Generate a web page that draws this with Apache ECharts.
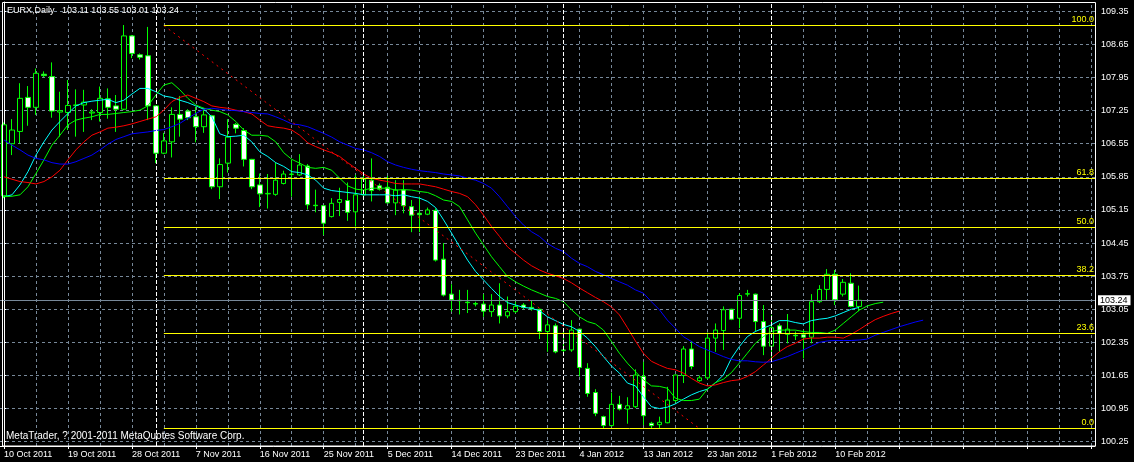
<!DOCTYPE html>
<html><head><meta charset="utf-8">
<script src="https://cdn.jsdelivr.net/npm/echarts@6/dist/echarts.min.js"></script>
<style>html,body{margin:0;padding:0;background:#000;}#c{width:1134px;height:462px;}</style>
</head><body><div id="c"></div>
<script>
// ---------- DATA ----------
const symbolName = 'EURX,Daily';
const categories = [
 '10 Oct 2011','11 Oct 2011','12 Oct 2011','13 Oct 2011','14 Oct 2011','16 Oct 2011','17 Oct 2011','18 Oct 2011',
 '19 Oct 2011','20 Oct 2011','21 Oct 2011','23 Oct 2011','24 Oct 2011','25 Oct 2011','26 Oct 2011','27 Oct 2011',
 '28 Oct 2011','30 Oct 2011','31 Oct 2011','1 Nov 2011','2 Nov 2011','3 Nov 2011','4 Nov 2011','6 Nov 2011',
 '7 Nov 2011','8 Nov 2011','9 Nov 2011','10 Nov 2011','11 Nov 2011','13 Nov 2011','14 Nov 2011','15 Nov 2011',
 '16 Nov 2011','17 Nov 2011','18 Nov 2011','20 Nov 2011','21 Nov 2011','22 Nov 2011','23 Nov 2011','24 Nov 2011',
 '25 Nov 2011','27 Nov 2011','28 Nov 2011','29 Nov 2011','30 Nov 2011','1 Dec 2011','2 Dec 2011','4 Dec 2011',
 '5 Dec 2011','6 Dec 2011','7 Dec 2011','8 Dec 2011','9 Dec 2011','11 Dec 2011','12 Dec 2011','13 Dec 2011',
 '14 Dec 2011','15 Dec 2011','16 Dec 2011','18 Dec 2011','19 Dec 2011','20 Dec 2011','21 Dec 2011','22 Dec 2011',
 '23 Dec 2011','26 Dec 2011','27 Dec 2011','28 Dec 2011','29 Dec 2011','30 Dec 2011','2 Jan 2012','3 Jan 2012',
 '4 Jan 2012','5 Jan 2012','6 Jan 2012','8 Jan 2012','9 Jan 2012','10 Jan 2012','11 Jan 2012','12 Jan 2012',
 '13 Jan 2012','15 Jan 2012','16 Jan 2012','17 Jan 2012','18 Jan 2012','19 Jan 2012','20 Jan 2012','22 Jan 2012',
 '23 Jan 2012','24 Jan 2012','25 Jan 2012','26 Jan 2012','27 Jan 2012','29 Jan 2012','30 Jan 2012','31 Jan 2012',
 '1 Feb 2012','2 Feb 2012','3 Feb 2012','5 Feb 2012','6 Feb 2012','7 Feb 2012','8 Feb 2012','9 Feb 2012',
 '10 Feb 2012','12 Feb 2012','13 Feb 2012','14 Feb 2012'
];
const emptyBarsRight = 29;

const opens = [105.45,106.55,106.81,107.53,107.32,108.02,107.97,107.22,107.21,107.36,107.37,107.20,107.21,107.50,107.35,107.28,
 108.83,108.43,108.41,107.35,106.35,106.59,107.17,107.24,107.12,106.91,107.14,105.64,106.14,106.96,106.83,106.22,
 105.68,105.49,105.48,105.71,105.90,105.89,106.08,105.25,105.24,105.01,105.31,105.35,105.11,105.47,105.78,105.66,
 105.63,105.30,105.57,105.22,105.08,105.06,105.14,104.11,103.37,103.24,103.20,103.17,103.16,103.00,103.14,102.91,
 103.00,103.14,103.09,103.05,102.58,102.70,102.18,102.19,102.63,101.80,101.29,100.78,100.59,101.04,100.94,100.99,
 101.63,100.64,100.61,100.65,101.12,101.65,102.21,101.54,101.60,102.44,102.60,103.05,102.86,103.37,103.37,102.79,
 102.27,102.70,102.52,102.50,102.51,102.46,103.21,103.47,103.79,103.37,103.60,103.11];
const highs = [107.00,107.07,107.83,107.77,108.14,108.08,108.27,107.65,107.90,107.70,107.69,107.28,107.76,107.72,107.58,109.06,
 108.85,108.46,109.02,107.36,106.78,107.32,107.56,107.28,107.33,107.31,107.16,106.24,107.07,106.99,106.88,106.23,
 105.92,105.91,106.15,105.98,106.21,106.33,106.12,105.58,105.25,105.40,105.62,105.73,105.89,105.96,106.24,105.71,
 105.87,105.78,105.78,105.36,105.43,105.20,105.18,104.45,103.58,103.46,103.46,103.21,103.37,103.37,103.60,103.32,
 103.21,103.18,103.23,103.06,102.82,102.75,102.61,102.82,102.64,101.91,101.36,100.80,101.29,101.22,101.19,101.78,
 101.94,100.67,100.78,101.41,101.67,102.27,102.38,101.65,102.56,102.75,103.11,103.06,103.39,103.46,103.38,103.14,
 102.93,102.75,102.95,102.58,102.61,103.37,103.56,103.90,103.88,103.69,103.81,103.55];
const lows = [105.40,106.31,106.56,106.93,107.16,107.96,107.10,106.70,106.84,106.70,106.80,107.05,107.02,107.08,106.80,107.26,
 108.36,108.33,107.05,106.14,106.33,106.26,106.70,107.05,106.58,106.78,105.59,105.38,105.94,106.77,106.07,105.59,
 105.21,105.18,105.45,105.69,105.43,105.87,105.16,105.10,104.62,104.99,105.02,104.92,104.80,105.45,105.33,105.56,
 105.29,105.04,105.08,104.68,104.68,105.04,104.06,103.32,103.00,102.94,102.97,103.11,102.89,102.89,102.75,102.86,
 102.97,103.05,103.02,102.42,102.15,102.12,102.08,102.15,101.63,101.20,100.79,100.53,100.57,100.91,100.63,100.96,
 100.60,100.53,100.52,100.64,101.08,101.49,101.78,101.52,101.57,102.15,102.19,102.82,102.65,103.32,102.58,102.08,
 102.01,102.15,102.33,102.40,102.01,102.33,103.18,103.25,103.14,103.32,103.09,103.01];
const closes = [106.95,106.84,107.51,107.32,108.04,107.99,107.24,107.25,107.36,107.37,107.43,107.22,107.51,107.32,107.28,108.83,
 108.46,108.38,107.35,106.35,106.61,107.17,107.07,107.10,106.91,107.16,105.64,106.11,106.69,106.88,106.22,105.64,
 105.49,105.50,105.78,105.91,105.91,106.10,105.26,105.24,104.87,105.29,105.37,105.10,105.47,105.80,105.56,105.59,
 105.30,105.57,105.24,105.04,105.05,105.15,104.09,103.35,103.25,103.23,103.19,103.16,103.01,103.14,102.91,103.00,
 103.11,103.09,103.06,102.58,102.72,102.15,102.19,102.61,101.82,101.27,100.85,100.59,101.04,100.94,101.01,101.66,
 100.80,100.59,100.66,101.13,101.66,102.21,101.84,101.60,102.44,102.61,103.04,102.84,103.34,103.38,102.79,102.27,
 102.66,102.54,102.63,102.49,102.46,103.21,103.47,103.79,103.25,103.62,103.11,103.24];

// Moving averages as drawn (lime, red and blue are shifted forward by 3, 5 and 8 bars)
const maCyan = [105.43,105.47,105.68,105.96,106.31,106.59,106.84,107.02,107.19,107.35,107.42,107.45,107.47,107.49,107.42,107.47,
 107.60,107.72,107.72,107.65,107.56,107.53,107.47,107.42,107.35,107.28,107.12,106.76,106.70,106.71,106.73,106.59,
 106.38,106.28,106.15,106.07,105.96,105.94,105.89,105.78,105.61,105.56,105.54,105.52,105.50,105.47,105.47,105.47,
 105.47,105.45,105.47,105.43,105.40,105.33,105.20,104.94,104.66,104.37,104.09,103.85,103.67,103.49,103.32,103.19,
 103.14,103.09,103.07,103.02,102.89,102.81,102.73,102.68,102.58,102.44,102.26,102.05,101.85,101.70,101.49,101.43,
 101.20,100.99,100.95,100.98,101.05,101.15,101.24,101.31,101.36,101.49,101.66,102.01,102.26,102.47,102.58,102.65,
 102.72,102.81,102.81,102.77,102.74,102.81,102.84,102.86,102.91,102.98,103.05,103.09];
const maLime = [105.43,105.44,105.47,105.64,105.92,106.21,106.52,106.73,106.95,107.05,107.09,107.12,107.17,107.17,107.19,107.21,
 107.23,107.26,107.35,107.58,107.79,107.84,107.69,107.51,107.37,107.30,107.26,107.23,107.16,107.02,106.84,106.73,
 106.73,106.71,106.59,106.36,106.22,106.14,106.05,106.03,106.05,105.99,105.82,105.66,105.59,105.57,105.61,105.61,
 105.61,105.57,105.58,105.57,105.54,105.52,105.45,105.36,105.33,105.22,104.94,104.66,104.41,104.16,103.95,103.74,
 103.63,103.54,103.46,103.39,103.32,103.28,103.21,103.04,102.89,102.79,102.74,102.61,102.37,102.12,101.91,101.73,
 101.56,101.43,101.42,101.38,101.17,101.12,101.12,101.15,101.36,101.50,101.57,101.71,101.91,102.12,102.33,102.47,
 102.58,102.61,102.61,102.61,102.58,102.56,102.56,102.54,102.61,102.75,102.89,103.03,103.12,103.17,103.20];
const maRed = [105.85,105.80,105.75,105.73,105.70,105.75,105.85,105.99,106.21,106.42,106.59,106.73,106.80,106.88,106.90,106.93,
 106.97,107.02,107.07,107.12,107.26,107.44,107.53,107.58,107.51,107.44,107.35,107.32,107.30,107.26,107.23,107.18,
 107.05,106.93,106.90,106.88,106.84,106.73,106.57,106.49,106.42,106.36,106.28,106.15,106.03,105.91,105.82,105.78,
 105.75,105.71,105.70,105.70,105.70,105.67,105.64,105.59,105.54,105.50,105.43,105.26,105.04,104.80,104.59,104.37,
 104.23,104.09,103.97,103.88,103.81,103.76,103.70,103.61,103.50,103.40,103.30,103.21,103.10,102.93,102.66,102.38,
 102.12,101.95,101.87,101.80,101.77,101.70,101.59,101.49,101.43,101.45,101.50,101.54,101.56,101.63,101.73,101.87,
 102.01,102.15,102.26,102.33,102.42,102.44,102.44,102.46,102.46,102.44,102.52,102.62,102.73,102.83,102.90,102.96,103.01];
const maBlue = [106.63,106.52,106.42,106.31,106.24,106.21,106.15,106.12,106.12,106.17,106.24,106.31,106.42,106.54,106.64,106.70,
 106.76,106.78,106.80,106.83,106.85,106.91,106.98,107.09,107.19,107.28,107.30,107.28,107.26,107.25,107.23,107.21,
 107.19,107.18,107.12,107.05,106.97,106.95,106.91,106.84,106.77,106.69,106.59,106.52,106.45,106.42,106.36,106.28,
 106.17,106.10,106.05,106.01,105.98,105.96,105.94,105.91,105.89,105.87,105.82,105.78,105.71,105.61,105.43,105.22,
 105.01,104.83,104.69,104.59,104.44,104.34,104.27,104.13,104.02,103.95,103.85,103.78,103.70,103.63,103.56,103.46,
 103.39,103.21,103.04,102.82,102.65,102.47,102.37,102.26,102.19,102.12,102.05,101.99,101.96,101.96,101.94,101.93,
 101.94,101.99,102.05,102.12,102.19,102.27,102.35,102.38,102.39,102.39,102.39,102.40,102.42,102.50,102.56,102.62,
 102.68,102.73,102.78,102.82];

const priceTicks = [100.25,100.95,101.65,102.35,103.05,103.75,104.45,105.15,105.85,106.55,107.25,107.95,108.65,109.35];
const fibLevels = [109.05,105.815,104.78,103.765,102.54,100.53];
const fibLabels = ['100.0','61.8','50.0','38.2','23.6','0.0'];
const fibAnchorBars = [20,87];
const monthStartBars = [19,45,70,96];
const bidPrice = 103.24;
const copyrightText = 'MetaTrader, ? 2001-2011 MetaQuotes Software Corp.';

// ---------- CHART ----------
const nBars = categories.length + emptyBarsRight;
const axisCats = categories.concat(Array.from({length: emptyBarsRight}, (_, i) => '+' + i));
const font = "'Liberation Sans', Arial, sans-serif";
const gridCol = '#778899';
const last = opens.length - 1;

const candleData = opens.map((o, i) => [o, closes[i], lows[i], highs[i]]);

const vGrid = [];
for (let k = 4; k < nBars; k += 4) vGrid.push({xAxis: k});

const headerText = symbolName + '   ' + [opens[last], highs[last], lows[last], closes[last]].map(v => v.toFixed(2)).join(' ');

const chart = echarts.init(document.getElementById('c'), null, {renderer: 'canvas'});
chart.setOption({
  backgroundColor: '#000',
  animation: false,
  textStyle: {fontFamily: font},
  grid: {left: -1, top: 2, width: nBars * 8, height: 444, containLabel: false},
  xAxis: [{
    type: 'category', data: axisCats, boundaryGap: true,
    axisLine: {show: true, lineStyle: {color: '#fff', width: 1}},
    axisTick: {show: true, interval: 7, alignWithLabel: true, length: 3, lineStyle: {color: '#fff'}},
    axisLabel: {show: true, interval: 7, align: 'left', margin: 4, color: '#fff', fontSize: 9, fontFamily: font,
      formatter: v => (v.charAt(0) === '+' ? '' : v)},
    splitLine: {show: false}
  }, {
    type: 'value', min: -0.5, max: nBars - 0.5, show: false, splitLine: {show: false}
  }],
  yAxis: {
    type: 'value', position: 'right', min: 100.159, max: 109.547, scale: true,
    axisLine: {show: true, lineStyle: {color: '#fff'}},
    axisTick: {show: true, length: 3, customValues: priceTicks, lineStyle: {color: '#fff'}},
    axisLabel: {show: true, customValues: priceTicks, margin: 6, color: '#fff', fontSize: 9, fontFamily: font,
      formatter: v => Number(v).toFixed(2)},
    splitLine: {show: false}
  },
  graphic: [
    {type: 'rect', shape: {x: 2.5, y: 2.5, width: 1093, height: 443.5}, style: {fill: null, stroke: '#fff', lineWidth: 1}, z: 50, silent: true},
    {type: 'text', x: 7, y: 10.5, z: 60, style: {text: headerText, fill: '#fff', font: '9px ' + font, verticalAlign: 'middle'}},
    {type: 'text', x: 6, y: 436, z: 60, style: {text: copyrightText, fill: '#fff', font: '10px ' + font, verticalAlign: 'middle'}}
  ],
  series: [
    { // background grid
      type: 'line', xAxisIndex: 1, data: [], z: 1, silent: true,
      markLine: {silent: true, symbol: 'none', z: 1, label: {show: false},
        lineStyle: {color: gridCol, type: [3, 3], width: 1},
        data: priceTicks.map(v => ({yAxis: v})).concat(vGrid)}
    },
    {
      type: 'candlestick', name: 'EURX', data: candleData, barWidth: 5, z: 2,
      itemStyle: {color: '#000', color0: '#fff', borderColor: '#00ff00', borderColor0: '#00ff00', borderWidth: 1}
    },
    {type: 'line', data: maCyan, symbol: 'none', z: 3, lineStyle: {color: '#00ffff', width: 1}},
    {type: 'line', data: maLime, symbol: 'none', z: 3, lineStyle: {color: '#00ff00', width: 1}},
    {type: 'line', data: maRed, symbol: 'none', z: 3, lineStyle: {color: '#ff0000', width: 1}},
    {type: 'line', data: maBlue, symbol: 'none', z: 3, lineStyle: {color: '#0000ff', width: 1}},
    { // objects: period separators, fibo, bid line
      type: 'line', xAxisIndex: 1, data: [], z: 4, silent: true,
      markLine: {silent: true, symbol: 'none', z: 6,
        data: [].concat(
          monthStartBars.map(k => ({xAxis: k, lineStyle: {color: '#fff', type: [4, 2], width: 1}, label: {show: false}})),
          [{yAxis: bidPrice, lineStyle: {color: gridCol, type: 'solid', width: 1},
            label: {show: true, position: 'end', distance: 3, formatter: bidPrice.toFixed(2), color: '#000', backgroundColor: '#fff',
              fontSize: 9, fontFamily: font, padding: [1, 3, 0, 2]}}],
          [[{coord: [fibAnchorBars[0], fibLevels[0]], lineStyle: {color: '#ff0000', type: [2, 4], width: 1}, label: {show: false}},
            {coord: [fibAnchorBars[1], fibLevels[fibLevels.length - 1]]}]],
          fibLevels.map((lv, i) => [
            {coord: [fibAnchorBars[0], lv], lineStyle: {color: '#ffff00', type: 'solid', width: 1},
              label: {show: true, position: 'insideEndTop', distance: 1, formatter: fibLabels[i], color: '#ffff00', fontSize: 9, fontFamily: font}},
            {coord: [nBars - 0.5, lv]}
          ])
        )}
    }
  ]
});
</script></body></html>
